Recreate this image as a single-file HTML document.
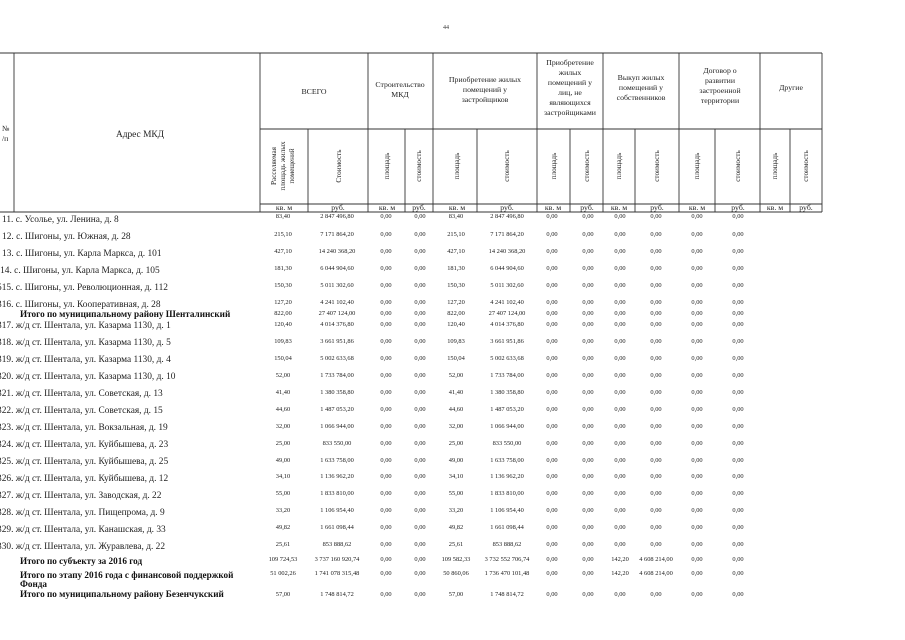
<!DOCTYPE html>
<html><head><meta charset="utf-8"><style>
html,body{margin:0;padding:0;background:#fff;}
svg{display:block;font-family:"Liberation Serif",serif;}
.a{font-size:9.4px;fill:#222;}
.b{font-size:9.2px;font-weight:bold;fill:#111;}
.n{font-size:6.4px;fill:#222;text-anchor:middle;}
.h{font-size:7.8px;fill:#222;text-anchor:middle;}
.r{font-size:7.2px;fill:#222;text-anchor:middle;}
.u{font-size:7.8px;fill:#222;text-anchor:middle;}
</style></head><body>
<svg width="905" height="640" viewBox="0 0 905 640" xmlns="http://www.w3.org/2000/svg">
<text x="443" y="29" style="font-size:6px" fill="#333">44</text>
<g stroke="#333" stroke-width="0.9" fill="none">
<line x1="0" y1="53" x2="822" y2="53"/>
<line x1="14" y1="53" x2="14" y2="212"/>
<line x1="260" y1="53" x2="260" y2="212"/>
<line x1="368" y1="53" x2="368" y2="212"/>
<line x1="433" y1="53" x2="433" y2="212"/>
<line x1="537" y1="53" x2="537" y2="212"/>
<line x1="603" y1="53" x2="603" y2="212"/>
<line x1="679" y1="53" x2="679" y2="212"/>
<line x1="760" y1="53" x2="760" y2="212"/>
<line x1="822" y1="53" x2="822" y2="212"/>
<line x1="260" y1="129" x2="822" y2="129"/>
<line x1="260" y1="204" x2="822" y2="204"/>
<line x1="0" y1="212" x2="822" y2="212"/>
<line x1="308" y1="129" x2="308" y2="212"/>
<line x1="405" y1="129" x2="405" y2="212"/>
<line x1="477" y1="129" x2="477" y2="212"/>
<line x1="570" y1="129" x2="570" y2="212"/>
<line x1="635" y1="129" x2="635" y2="212"/>
<line x1="715" y1="129" x2="715" y2="212"/>
<line x1="790" y1="129" x2="790" y2="212"/>
</g>
<text x="2" y="131" class="h" style="text-anchor:start">№</text>
<text x="2" y="141" class="h" style="text-anchor:start">/п</text>
<text x="140" y="137" class="a" text-anchor="middle">Адрес МКД</text>
<text x="314" y="94" class="h">ВСЕГО</text>
<text x="400" y="87" class="h">Строительство</text>
<text x="400" y="97" class="h">МКД</text>
<text x="485" y="82" class="h">Приобретение жилых</text>
<text x="485" y="92" class="h">помещений у</text>
<text x="485" y="102" class="h">застройщиков</text>
<text x="570" y="65" class="h">Приобретение</text>
<text x="570" y="75" class="h">жилых</text>
<text x="570" y="85" class="h">помещений у</text>
<text x="570" y="95" class="h">лиц, не</text>
<text x="570" y="105" class="h">являющихся</text>
<text x="570" y="115" class="h">застройщиками</text>
<text x="641" y="80" class="h">Выкуп жилых</text>
<text x="641" y="90" class="h">помещений у</text>
<text x="641" y="100" class="h">собственников</text>
<text x="720" y="73" class="h">Договор о</text>
<text x="720" y="83" class="h">развитии</text>
<text x="720" y="93" class="h">застроенной</text>
<text x="720" y="103" class="h">территории</text>
<text x="791" y="90" class="h">Другие</text>
<text transform="translate(276,166) rotate(-90)" class="r">Расселяемая</text>
<text transform="translate(285,166) rotate(-90)" class="r">площадь жилых</text>
<text transform="translate(294,166) rotate(-90)" class="r">помещений</text>
<text transform="translate(341,166) rotate(-90)" class="r">Стоимость</text>
<text transform="translate(389,166) rotate(-90)" class="r">площадь</text>
<text transform="translate(421,166) rotate(-90)" class="r">стоимость</text>
<text transform="translate(459,166) rotate(-90)" class="r">площадь</text>
<text transform="translate(509,166) rotate(-90)" class="r">стоимость</text>
<text transform="translate(556,166) rotate(-90)" class="r">площадь</text>
<text transform="translate(589,166) rotate(-90)" class="r">стоимость</text>
<text transform="translate(621,166) rotate(-90)" class="r">площадь</text>
<text transform="translate(659,166) rotate(-90)" class="r">стоимость</text>
<text transform="translate(699,166) rotate(-90)" class="r">площадь</text>
<text transform="translate(740,166) rotate(-90)" class="r">стоимость</text>
<text transform="translate(777,166) rotate(-90)" class="r">площадь</text>
<text transform="translate(808,166) rotate(-90)" class="r">стоимость</text>
<g class="u">
<text x="284" y="210">кв. м</text><text x="338" y="210">руб.</text>
<text x="387" y="210">кв. м</text><text x="419" y="210">руб.</text>
<text x="457" y="210">кв. м</text><text x="507" y="210">руб.</text>
<text x="553" y="210">кв. м</text><text x="587" y="210">руб.</text>
<text x="619" y="210">кв. м</text><text x="657" y="210">руб.</text>
<text x="697" y="210">кв. м</text><text x="738" y="210">руб.</text>
<text x="775" y="210">кв. м</text><text x="806" y="210">руб.</text>
</g>
<g class="a">
<text x="2" y="222">11.  с. Усолье, ул. Ленина, д. 8</text>
<text x="2" y="239">12.  с. Шигоны, ул. Южная, д. 28</text>
<text x="2" y="256">13.  с. Шигоны, ул. Карла Маркса, д. 101</text>
<text x="-3" y="273">-14.  с. Шигоны, ул. Карла Маркса, д. 105</text>
<text x="-3" y="290">515.  с. Шигоны, ул. Революционная, д. 112</text>
<text x="-3" y="307">316.  с. Шигоны, ул. Кооперативная, д. 28</text>
<text x="-3" y="328">317.  ж/д ст. Шентала, ул. Казарма 1130, д. 1</text>
<text x="-3" y="345">318.  ж/д ст. Шентала, ул. Казарма 1130, д. 5</text>
<text x="-3" y="362">319.  ж/д ст. Шентала, ул. Казарма 1130, д. 4</text>
<text x="-3" y="379">320.  ж/д ст. Шентала, ул. Казарма 1130, д. 10</text>
<text x="-3" y="396">321.  ж/д ст. Шентала, ул. Советская, д. 13</text>
<text x="-3" y="413">322.  ж/д ст. Шентала, ул. Советская, д. 15</text>
<text x="-3" y="430">323.  ж/д ст. Шентала, ул. Вокзальная, д. 19</text>
<text x="-3" y="447">324.  ж/д ст. Шентала, ул. Куйбышева, д. 23</text>
<text x="-3" y="464">325.  ж/д ст. Шентала, ул. Куйбышева, д. 25</text>
<text x="-3" y="481">326.  ж/д ст. Шентала, ул. Куйбышева, д. 12</text>
<text x="-3" y="498">327.  ж/д ст. Шентала, ул. Заводская, д. 22</text>
<text x="-3" y="515">328.  ж/д ст. Шентала, ул. Пищепрома, д. 9</text>
<text x="-3" y="532">329.  ж/д ст. Шентала, ул. Канашская, д. 33</text>
<text x="-3" y="549">330.  ж/д ст. Шентала, ул. Журавлева, д. 22</text>
</g>
<g class="b">
<text x="20" y="317">Итого по муниципальному району Шенталинский</text>
<text x="20" y="564">Итого  по субъекту за 2016 год</text>
<text x="20" y="578">Итого по этапу 2016 года с финансовой поддержкой</text>
<text x="20" y="587">Фонда</text>
<text x="20" y="597">Итого по муниципальному району Безенчукский</text>
</g>
<g class="n">
<text x="283" y="218">83,40</text><text x="337" y="218">2 847 496,80</text><text x="456" y="218">83,40</text><text x="507" y="218">2 847 496,80</text>
<text x="283" y="236">215,10</text><text x="337" y="236">7 171 864,20</text><text x="456" y="236">215,10</text><text x="507" y="236">7 171 864,20</text>
<text x="283" y="253">427,10</text><text x="337" y="253">14 240 368,20</text><text x="456" y="253">427,10</text><text x="507" y="253">14 240 368,20</text>
<text x="283" y="270">181,30</text><text x="337" y="270">6 044 904,60</text><text x="456" y="270">181,30</text><text x="507" y="270">6 044 904,60</text>
<text x="283" y="287">150,30</text><text x="337" y="287">5 011 302,60</text><text x="456" y="287">150,30</text><text x="507" y="287">5 011 302,60</text>
<text x="283" y="304">127,20</text><text x="337" y="304">4 241 102,40</text><text x="456" y="304">127,20</text><text x="507" y="304">4 241 102,40</text>
<text x="283" y="315">822,00</text><text x="337" y="315">27 407 124,00</text><text x="456" y="315">822,00</text><text x="507" y="315">27 407 124,00</text>
<text x="283" y="326">120,40</text><text x="337" y="326">4 014 376,80</text><text x="456" y="326">120,40</text><text x="507" y="326">4 014 376,80</text>
<text x="283" y="343">109,83</text><text x="337" y="343">3 661 951,86</text><text x="456" y="343">109,83</text><text x="507" y="343">3 661 951,86</text>
<text x="283" y="360">150,04</text><text x="337" y="360">5 002 633,68</text><text x="456" y="360">150,04</text><text x="507" y="360">5 002 633,68</text>
<text x="283" y="377">52,00</text><text x="337" y="377">1 733 784,00</text><text x="456" y="377">52,00</text><text x="507" y="377">1 733 784,00</text>
<text x="283" y="394">41,40</text><text x="337" y="394">1 380 358,80</text><text x="456" y="394">41,40</text><text x="507" y="394">1 380 358,80</text>
<text x="283" y="411">44,60</text><text x="337" y="411">1 487 053,20</text><text x="456" y="411">44,60</text><text x="507" y="411">1 487 053,20</text>
<text x="283" y="428">32,00</text><text x="337" y="428">1 066 944,00</text><text x="456" y="428">32,00</text><text x="507" y="428">1 066 944,00</text>
<text x="283" y="445">25,00</text><text x="337" y="445">833 550,00</text><text x="456" y="445">25,00</text><text x="507" y="445">833 550,00</text>
<text x="283" y="462">49,00</text><text x="337" y="462">1 633 758,00</text><text x="456" y="462">49,00</text><text x="507" y="462">1 633 758,00</text>
<text x="283" y="478">34,10</text><text x="337" y="478">1 136 962,20</text><text x="456" y="478">34,10</text><text x="507" y="478">1 136 962,20</text>
<text x="283" y="495">55,00</text><text x="337" y="495">1 833 810,00</text><text x="456" y="495">55,00</text><text x="507" y="495">1 833 810,00</text>
<text x="283" y="512">33,20</text><text x="337" y="512">1 106 954,40</text><text x="456" y="512">33,20</text><text x="507" y="512">1 106 954,40</text>
<text x="283" y="529">49,82</text><text x="337" y="529">1 661 098,44</text><text x="456" y="529">49,82</text><text x="507" y="529">1 661 098,44</text>
<text x="283" y="546">25,61</text><text x="337" y="546">853 888,62</text><text x="456" y="546">25,61</text><text x="507" y="546">853 888,62</text>
<text x="283" y="561">109 724,53</text><text x="337" y="561">3 737 160 920,74</text><text x="456" y="561">109 582,33</text><text x="507" y="561">3 732 552 706,74</text>
<text x="283" y="575">51 002,26</text><text x="337" y="575">1 741 078 315,48</text><text x="456" y="575">50 860,06</text><text x="507" y="575">1 736 470 101,48</text>
<text x="283" y="596">57,00</text><text x="337" y="596">1 748 814,72</text><text x="456" y="596">57,00</text><text x="507" y="596">1 748 814,72</text>
</g>
<g class="n">
<g transform="translate(0,218)"><text x="386">0,00</text><text x="420">0,00</text><text x="552">0,00</text><text x="588">0,00</text><text x="620">0,00</text><text x="656">0,00</text><text x="697">0,00</text><text x="738">0,00</text></g>
<g transform="translate(0,236)"><text x="386">0,00</text><text x="420">0,00</text><text x="552">0,00</text><text x="588">0,00</text><text x="620">0,00</text><text x="656">0,00</text><text x="697">0,00</text><text x="738">0,00</text></g>
<g transform="translate(0,253)"><text x="386">0,00</text><text x="420">0,00</text><text x="552">0,00</text><text x="588">0,00</text><text x="620">0,00</text><text x="656">0,00</text><text x="697">0,00</text><text x="738">0,00</text></g>
<g transform="translate(0,270)"><text x="386">0,00</text><text x="420">0,00</text><text x="552">0,00</text><text x="588">0,00</text><text x="620">0,00</text><text x="656">0,00</text><text x="697">0,00</text><text x="738">0,00</text></g>
<g transform="translate(0,287)"><text x="386">0,00</text><text x="420">0,00</text><text x="552">0,00</text><text x="588">0,00</text><text x="620">0,00</text><text x="656">0,00</text><text x="697">0,00</text><text x="738">0,00</text></g>
<g transform="translate(0,304)"><text x="386">0,00</text><text x="420">0,00</text><text x="552">0,00</text><text x="588">0,00</text><text x="620">0,00</text><text x="656">0,00</text><text x="697">0,00</text><text x="738">0,00</text></g>
<g transform="translate(0,315)"><text x="386">0,00</text><text x="420">0,00</text><text x="552">0,00</text><text x="588">0,00</text><text x="620">0,00</text><text x="656">0,00</text><text x="697">0,00</text><text x="738">0,00</text></g>
<g transform="translate(0,326)"><text x="386">0,00</text><text x="420">0,00</text><text x="552">0,00</text><text x="588">0,00</text><text x="620">0,00</text><text x="656">0,00</text><text x="697">0,00</text><text x="738">0,00</text></g>
<g transform="translate(0,343)"><text x="386">0,00</text><text x="420">0,00</text><text x="552">0,00</text><text x="588">0,00</text><text x="620">0,00</text><text x="656">0,00</text><text x="697">0,00</text><text x="738">0,00</text></g>
<g transform="translate(0,360)"><text x="386">0,00</text><text x="420">0,00</text><text x="552">0,00</text><text x="588">0,00</text><text x="620">0,00</text><text x="656">0,00</text><text x="697">0,00</text><text x="738">0,00</text></g>
<g transform="translate(0,377)"><text x="386">0,00</text><text x="420">0,00</text><text x="552">0,00</text><text x="588">0,00</text><text x="620">0,00</text><text x="656">0,00</text><text x="697">0,00</text><text x="738">0,00</text></g>
<g transform="translate(0,394)"><text x="386">0,00</text><text x="420">0,00</text><text x="552">0,00</text><text x="588">0,00</text><text x="620">0,00</text><text x="656">0,00</text><text x="697">0,00</text><text x="738">0,00</text></g>
<g transform="translate(0,411)"><text x="386">0,00</text><text x="420">0,00</text><text x="552">0,00</text><text x="588">0,00</text><text x="620">0,00</text><text x="656">0,00</text><text x="697">0,00</text><text x="738">0,00</text></g>
<g transform="translate(0,428)"><text x="386">0,00</text><text x="420">0,00</text><text x="552">0,00</text><text x="588">0,00</text><text x="620">0,00</text><text x="656">0,00</text><text x="697">0,00</text><text x="738">0,00</text></g>
<g transform="translate(0,445)"><text x="386">0,00</text><text x="420">0,00</text><text x="552">0,00</text><text x="588">0,00</text><text x="620">0,00</text><text x="656">0,00</text><text x="697">0,00</text><text x="738">0,00</text></g>
<g transform="translate(0,462)"><text x="386">0,00</text><text x="420">0,00</text><text x="552">0,00</text><text x="588">0,00</text><text x="620">0,00</text><text x="656">0,00</text><text x="697">0,00</text><text x="738">0,00</text></g>
<g transform="translate(0,478)"><text x="386">0,00</text><text x="420">0,00</text><text x="552">0,00</text><text x="588">0,00</text><text x="620">0,00</text><text x="656">0,00</text><text x="697">0,00</text><text x="738">0,00</text></g>
<g transform="translate(0,495)"><text x="386">0,00</text><text x="420">0,00</text><text x="552">0,00</text><text x="588">0,00</text><text x="620">0,00</text><text x="656">0,00</text><text x="697">0,00</text><text x="738">0,00</text></g>
<g transform="translate(0,512)"><text x="386">0,00</text><text x="420">0,00</text><text x="552">0,00</text><text x="588">0,00</text><text x="620">0,00</text><text x="656">0,00</text><text x="697">0,00</text><text x="738">0,00</text></g>
<g transform="translate(0,529)"><text x="386">0,00</text><text x="420">0,00</text><text x="552">0,00</text><text x="588">0,00</text><text x="620">0,00</text><text x="656">0,00</text><text x="697">0,00</text><text x="738">0,00</text></g>
<g transform="translate(0,546)"><text x="386">0,00</text><text x="420">0,00</text><text x="552">0,00</text><text x="588">0,00</text><text x="620">0,00</text><text x="656">0,00</text><text x="697">0,00</text><text x="738">0,00</text></g>
<g transform="translate(0,561)"><text x="386">0,00</text><text x="420">0,00</text><text x="552">0,00</text><text x="588">0,00</text><text x="620">142,20</text><text x="656">4 608 214,00</text><text x="697">0,00</text><text x="738">0,00</text></g>
<g transform="translate(0,575)"><text x="386">0,00</text><text x="420">0,00</text><text x="552">0,00</text><text x="588">0,00</text><text x="620">142,20</text><text x="656">4 608 214,00</text><text x="697">0,00</text><text x="738">0,00</text></g>
<g transform="translate(0,596)"><text x="386">0,00</text><text x="420">0,00</text><text x="552">0,00</text><text x="588">0,00</text><text x="620">0,00</text><text x="656">0,00</text><text x="697">0,00</text><text x="738">0,00</text></g>
</g>
</svg>
</body></html>
